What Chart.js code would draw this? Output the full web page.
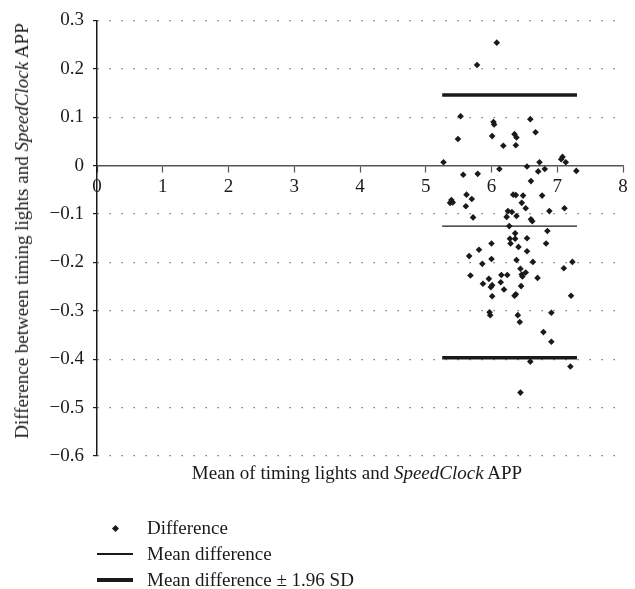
<!DOCTYPE html>
<html>
<head>
<meta charset="utf-8">
<script src="https://cdn.jsdelivr.net/npm/chart.js@4.4.0/dist/chart.umd.min.js"></script>
<style>
  body { margin: 0; background: #fff; font-family: "Liberation Serif", serif; color: #1a1a1a; }
  #wrap { position: relative; width: 635px; height: 589px; overflow: hidden; }
  canvas { position: absolute; left: 0; top: 0; }
  .ytitle { position: absolute; left: 22px; top: 231px; transform: translate(-50%, -50%) rotate(-90deg); white-space: nowrap; font-size: 19px; }
  .xtitle { position: absolute; left: 357px; top: 473px; transform: translate(-50%, -50%); white-space: nowrap; font-size: 19px; }
  #legend { position: absolute; left: 97px; top: 515px; }
  .item { height: 26px; display: flex; align-items: center; font-size: 19px; }
  .sym { width: 36px; margin-right: 14px; display: flex; align-items: center; justify-content: center; }
</style>
</head>
<body>
<div id="wrap">
  <canvas id="blandAltman" width="635" height="589"></canvas>
  <div class="ytitle">Difference between timing lights and <i>SpeedClock</i> APP</div>
  <div class="xtitle">Mean of timing lights and <i>SpeedClock</i> APP</div>
  <div id="legend"></div>
</div>
<script>
// --- Data ---
const meanValues = [
  6.08, 5.78, 5.53, 6.03, 6.04, 6.59, 6.67, 5.49, 6.01, 6.35,
  6.38, 6.18, 6.37, 5.27, 7.08, 7.06, 7.13, 6.73, 6.54, 6.12,
  5.57, 5.79, 6.71, 6.81, 7.29, 6.60, 6.77, 6.33, 6.37, 6.48,
  5.62, 5.70, 5.39, 5.37, 5.41, 5.61, 6.46, 6.52, 6.88, 7.11,
  5.72, 6.25, 6.31, 6.23, 6.38, 6.60, 6.62, 6.27, 6.85, 6.36,
  6.28, 6.36, 6.54, 6.00, 6.29, 6.83, 6.41, 5.81, 6.54, 5.66,
  6.00, 6.38, 5.86, 6.63, 7.23, 7.10, 6.44, 6.52, 6.47, 6.46,
  5.68, 5.96, 6.15, 6.24, 6.70, 5.87, 6.01, 5.99, 6.14, 6.19,
  6.45, 6.37, 6.35, 6.01, 7.21, 5.97, 5.98, 6.40, 6.91, 6.43,
  6.79, 6.91, 6.59, 7.20, 6.44
];
const diffValues = [
  0.254, 0.208, 0.102, 0.090, 0.085, 0.096, 0.069, 0.055, 0.061, 0.065,
  0.058, 0.041, 0.042, 0.007, 0.018, 0.013, 0.007, 0.007, -0.002, -0.007,
  -0.019, -0.017, -0.012, -0.007, -0.011, -0.032, -0.062, -0.060, -0.061, -0.062,
  -0.060, -0.069, -0.071, -0.077, -0.076, -0.084, -0.077, -0.088, -0.094, -0.088,
  -0.107, -0.094, -0.096, -0.106, -0.104, -0.111, -0.115, -0.125, -0.135, -0.140,
  -0.151, -0.151, -0.150, -0.161, -0.161, -0.161, -0.168, -0.174, -0.177, -0.187,
  -0.193, -0.195, -0.203, -0.199, -0.199, -0.212, -0.213, -0.221, -0.229, -0.225,
  -0.227, -0.234, -0.226, -0.226, -0.232, -0.244, -0.247, -0.251, -0.241, -0.256,
  -0.249, -0.266, -0.269, -0.270, -0.269, -0.303, -0.309, -0.309, -0.304, -0.323,
  -0.344, -0.364, -0.405, -0.415, -0.469
];
const lineSpan = [5.25, 7.30];
const meanDiff = -0.125;
const upperLimit = 0.146;
const lowerLimit = -0.397;
const xTicks = [0, 1, 2, 3, 4, 5, 6, 7, 8];
const yTicks = [0.3, 0.2, 0.1, 0, -0.1, -0.2, -0.3, -0.4, -0.5, -0.6];

const FONT = 'Liberation Serif';
const INK = '#1a1a1a';

const points = meanValues.map((x, i) => ({ x: x, y: diffValues[i] }));
const hLine = v => lineSpan.map(x => ({ x: x, y: v }));

const chart = new Chart(document.getElementById('blandAltman'), {
  type: 'scatter',
  data: {
    datasets: [
      {
        label: 'Difference',
        data: points,
        pointStyle: 'rectRot',
        pointRadius: 3.3,
        pointBackgroundColor: INK,
        pointBorderWidth: 0,
        order: 0
      },
      {
        label: 'Mean difference',
        type: 'line',
        data: hLine(meanDiff),
        borderColor: INK,
        borderWidth: 1.3,
        pointRadius: 0,
        order: 1
      },
      {
        label: 'Mean difference \u00b1 1.96 SD',
        type: 'line',
        data: hLine(upperLimit),
        borderColor: INK,
        borderWidth: 3.5,
        pointRadius: 0,
        order: 1
      },
      {
        label: 'lower',
        type: 'line',
        data: hLine(lowerLimit),
        borderColor: INK,
        borderWidth: 3.5,
        pointRadius: 0,
        order: 1
      }
    ]
  },
  options: {
    responsive: false,
    animation: false,
    layout: { padding: { left: 35, right: 12, top: 20, bottom: 133 } },
    plugins: { legend: { display: false }, tooltip: { enabled: false } },
    scales: {
      x: {
        type: 'linear',
        position: { y: 0 },
        min: 0,
        max: 8,
        afterBuildTicks: s => { s.ticks = xTicks.map(v => ({ value: v })); },
        grid: { drawOnChartArea: false, tickLength: 6, tickColor: '#555', tickWidth: 1.2 },
        border: { color: '#555', width: 1.5 },
        ticks: { color: INK, padding: 4, font: { family: FONT, size: 19 } }
      },
      y: {
        type: 'linear',
        min: -0.6,
        max: 0.3,
        afterBuildTicks: s => { s.ticks = yTicks.map(v => ({ value: v })); },
        afterFit: s => { s.width = 62; },
        grid: {
          color: c => (c.tick && Math.abs(c.tick.value) < 1e-9) ? 'rgba(0,0,0,0)' : '#555',
          lineWidth: 1.2,
          tickLength: 4,
          tickColor: INK,
          tickWidth: 1.2
        },
        border: { color: INK, width: 1.5, dash: [1.2, 10.8] },
        ticks: {
          color: INK,
          padding: 9,
          font: { family: FONT, size: 19 },
          callback: v => Math.abs(v) < 1e-9 ? '0' : (v < 0 ? '\u2212' + Math.abs(v).toFixed(1) : v.toFixed(1))
        }
      }
    }
  }
});

// --- Legend (HTML, built from the datasets) ---
const legend = document.getElementById('legend');
chart.data.datasets.slice(0, 3).forEach(ds => {
  const item = document.createElement('div');
  item.className = 'item';
  const sym = document.createElement('div');
  sym.className = 'sym';
  if (ds.type === 'line') {
    sym.innerHTML = `<div style="width:36px;height:${ds.borderWidth}px;background:${ds.borderColor}"></div>`;
  } else {
    sym.innerHTML = `<div style="width:5px;height:5px;background:${ds.pointBackgroundColor};transform:rotate(45deg)"></div>`;
  }
  const txt = document.createElement('span');
  txt.textContent = ds.label;
  item.appendChild(sym);
  item.appendChild(txt);
  legend.appendChild(item);
});
</script>
</body>
</html>
